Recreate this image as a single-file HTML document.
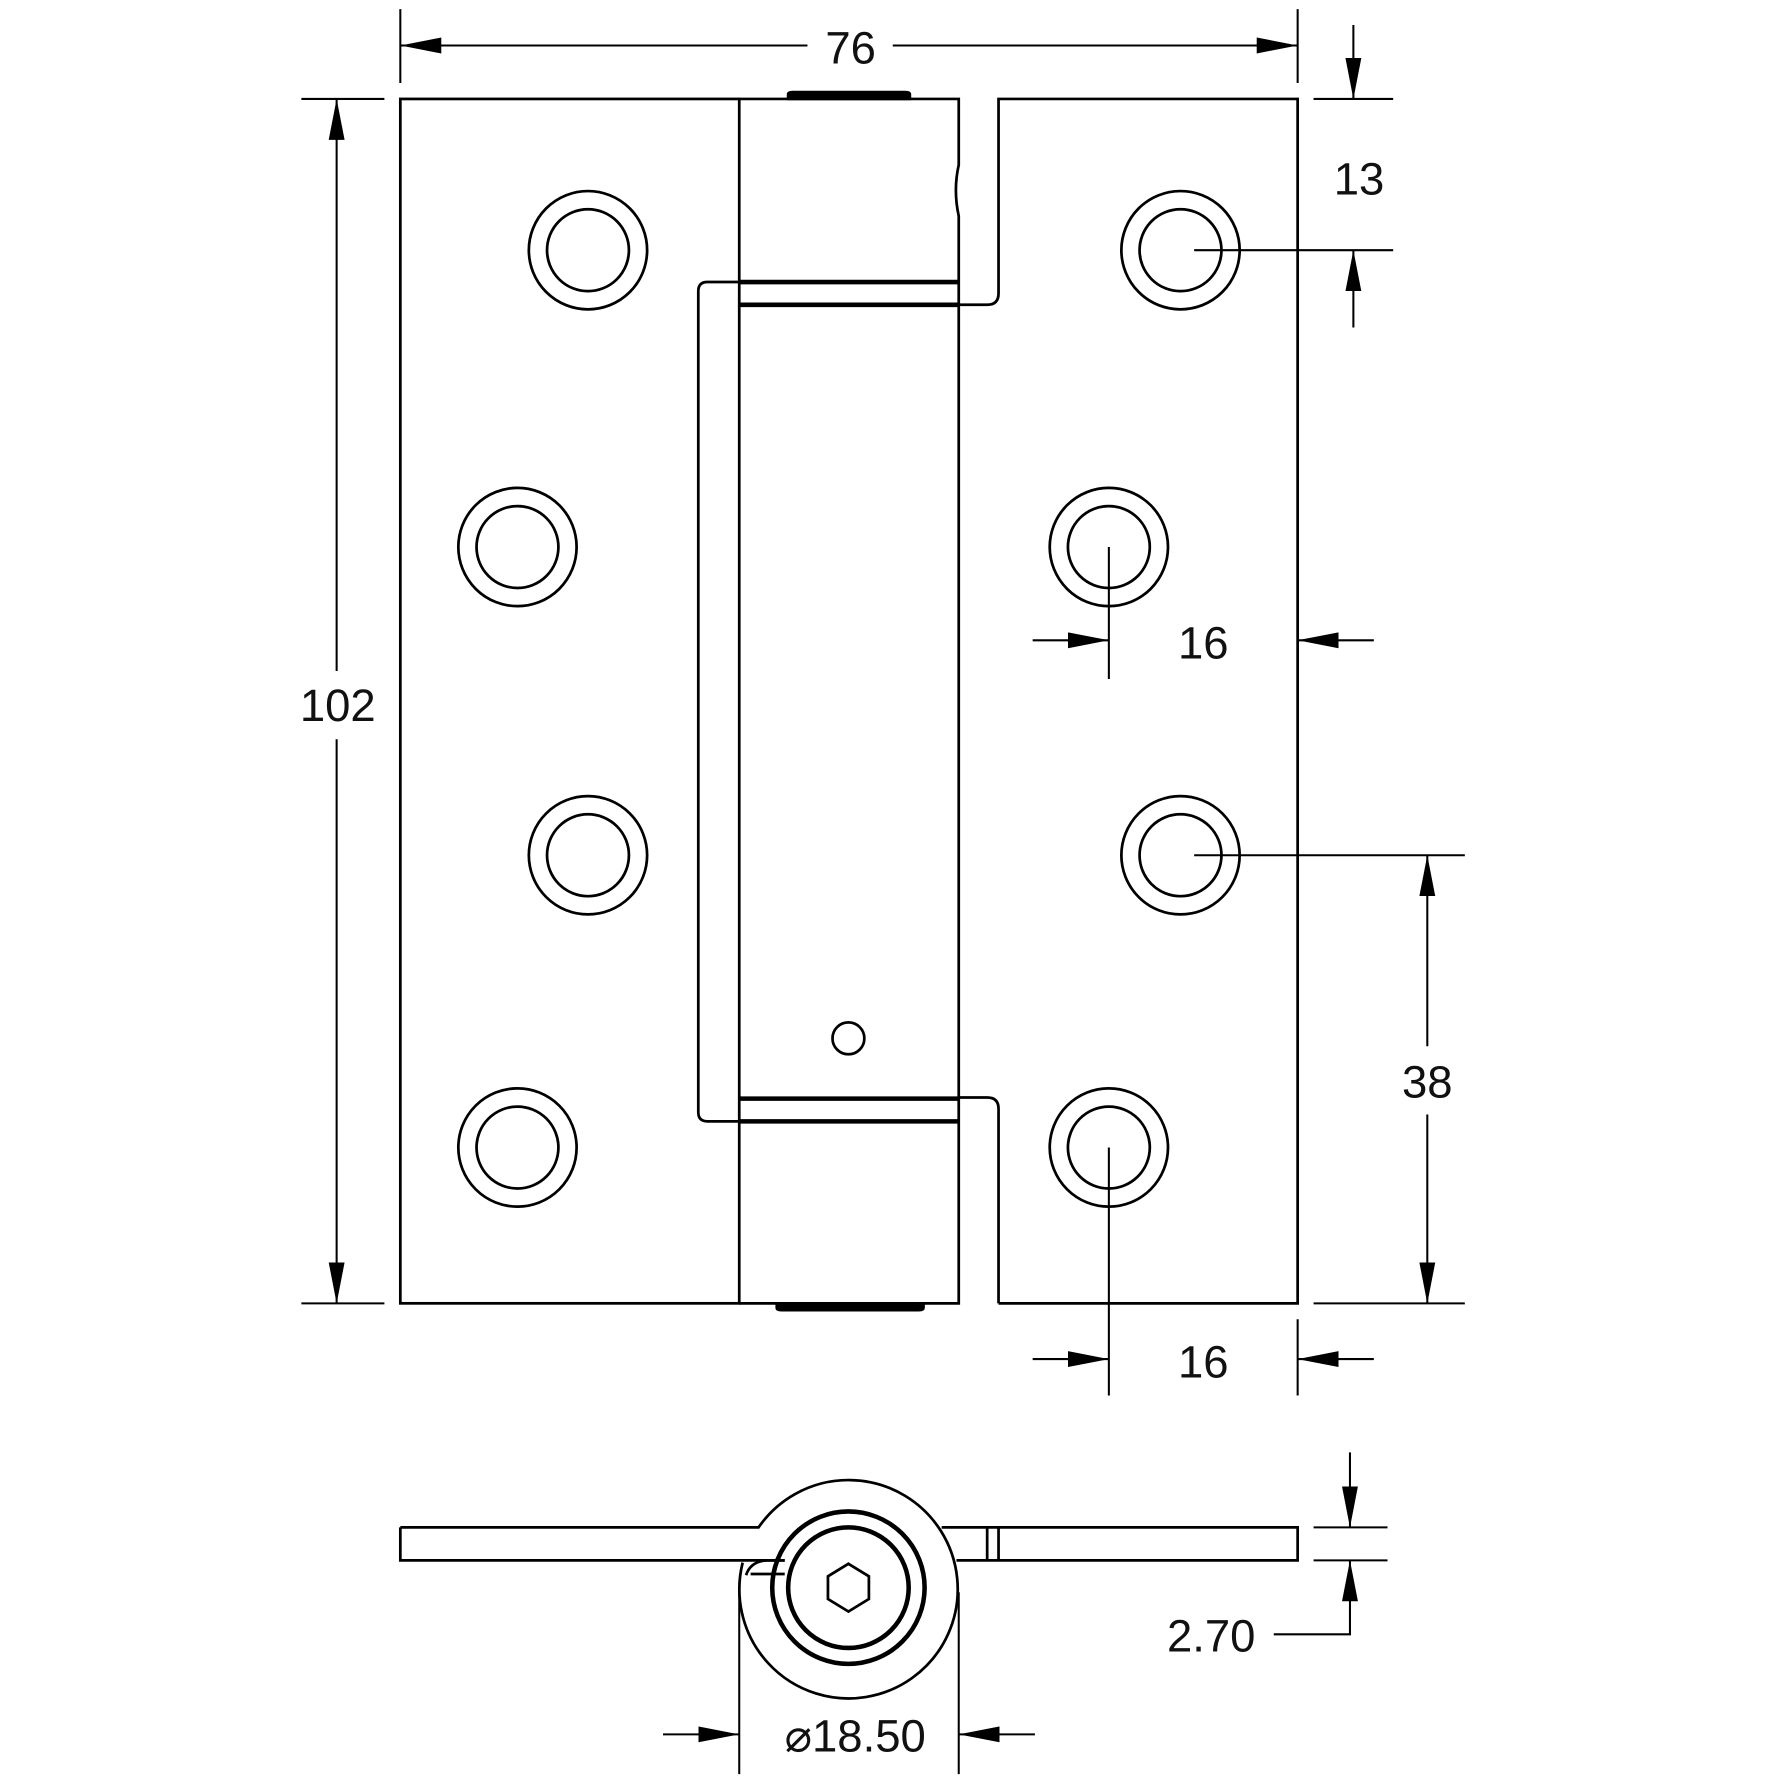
<!DOCTYPE html>
<html><head><meta charset="utf-8"><style>html,body{margin:0;padding:0;background:#fff}svg{display:block}</style></head>
<body>
<svg width="1781" height="1781" viewBox="0 0 1566 1566" xmlns="http://www.w3.org/2000/svg">
<defs>
<marker id="a" viewBox="0 0 36 14" refX="36" refY="7" markerWidth="36" markerHeight="14" markerUnits="userSpaceOnUse" orient="auto"><path d="M0,0 L36,7 L0,14 Z" fill="#000"/></marker>
</defs>
<g fill="none" stroke="#000" stroke-width="2.4">
<rect x="352" y="87" width="298" height="1059"/>
<path d="M650,87 H843 V145 Q838,167 843,190 V1146 H650"/>
<path d="M878,1146 V975 Q878,965 868,965 H843 M843,268 H868 Q878,268 878,258 V87 H1141 V1146 H878"/>
<path d="M650,248 H622 Q614,248 614,256 V978 Q614,986 622,986 H650"/>
<line x1="650" y1="248" x2="843" y2="248" stroke-width="4"/>
<line x1="650" y1="268" x2="843" y2="268" stroke-width="4"/>
<line x1="650" y1="966" x2="843" y2="966" stroke-width="4"/>
<line x1="650" y1="986" x2="843" y2="986" stroke-width="4"/>
<path d="M693,87 V83 Q693,81 697,81 H796 Q800,81 800,83 V87 Z" fill="#000"/>
<path d="M683,1146 V1150 Q683,1152 687,1152 H808 Q812,1152 812,1150 V1146 Z" fill="#000"/>
<circle cx="746" cy="913" r="14"/>
<g>
<circle cx="517" cy="220" r="52"/><circle cx="517" cy="220" r="36"/>
<circle cx="455" cy="481" r="52"/><circle cx="455" cy="481" r="36"/>
<circle cx="517" cy="752" r="52"/><circle cx="517" cy="752" r="36"/>
<circle cx="455" cy="1009" r="52"/><circle cx="455" cy="1009" r="36"/>
<circle cx="1038" cy="220" r="52"/><circle cx="1038" cy="220" r="36"/>
<circle cx="975" cy="481" r="52"/><circle cx="975" cy="481" r="36"/>
<circle cx="1038" cy="752" r="52"/><circle cx="1038" cy="752" r="36"/>
<circle cx="975" cy="1009" r="52"/><circle cx="975" cy="1009" r="36"/>
</g>
</g>
<g fill="none" stroke="#000" stroke-width="1.8">
<line x1="352" y1="8" x2="352" y2="73"/><line x1="1141" y1="8" x2="1141" y2="73"/>
<line x1="710" y1="40" x2="352" y2="40" marker-end="url(#a)"/>
<line x1="785" y1="40" x2="1141" y2="40" marker-end="url(#a)"/>
<line x1="265" y1="87" x2="338" y2="87"/><line x1="265" y1="1146" x2="338" y2="1146"/>
<line x1="296" y1="590" x2="296" y2="87" marker-end="url(#a)"/>
<line x1="296" y1="650" x2="296" y2="1146" marker-end="url(#a)"/>
<line x1="1155" y1="87" x2="1225" y2="87"/><line x1="1050" y1="220" x2="1225" y2="220"/>
<line x1="1190" y1="22" x2="1190" y2="87" marker-end="url(#a)"/>
<line x1="1190" y1="288" x2="1190" y2="220" marker-end="url(#a)"/>
<line x1="975" y1="481" x2="975" y2="597"/>
<line x1="908" y1="563" x2="975" y2="563" marker-end="url(#a)"/>
<line x1="1208" y1="563" x2="1141" y2="563" marker-end="url(#a)"/>
<line x1="1050" y1="752" x2="1288" y2="752"/><line x1="1155" y1="1146" x2="1288" y2="1146"/>
<line x1="1255" y1="920" x2="1255" y2="752" marker-end="url(#a)"/>
<line x1="1255" y1="980" x2="1255" y2="1146" marker-end="url(#a)"/>
<line x1="975" y1="1009" x2="975" y2="1227"/><line x1="1141" y1="1160" x2="1141" y2="1227"/>
<line x1="908" y1="1195" x2="975" y2="1195" marker-end="url(#a)"/>
<line x1="1208" y1="1195" x2="1141" y2="1195" marker-end="url(#a)"/>
<line x1="1155" y1="1343" x2="1220" y2="1343"/><line x1="1155" y1="1372" x2="1220" y2="1372"/>
<line x1="1187" y1="1277" x2="1187" y2="1343" marker-end="url(#a)"/>
<polyline points="1120,1437 1187,1437 1187,1372" marker-end="url(#a)"/>
<line x1="650" y1="1400" x2="650" y2="1560"/><line x1="843" y1="1400" x2="843" y2="1560"/>
<line x1="583" y1="1525" x2="650" y2="1525" marker-end="url(#a)"/>
<line x1="910" y1="1525" x2="843" y2="1525" marker-end="url(#a)"/>
</g>
<g fill="none" stroke="#000" stroke-width="2.4">
<path d="M352,1343 H667 A96,96 0 1 1 653,1374"/>
<path d="M828,1343 H1141 V1372 H841"/>
<path d="M352,1343 V1372 H690"/>
<path d="M656,1385 Q660,1373 674,1372 L690,1372 M660,1384 H690"/>
<line x1="868" y1="1343" x2="868" y2="1372"/><line x1="878" y1="1343" x2="878" y2="1372"/>
<circle cx="746" cy="1396" r="67" stroke-width="4"/>
<circle cx="746" cy="1396" r="53" stroke-width="4"/>
<polygon points="746,1375 764,1386 764,1406 746,1417 728,1406 728,1386"/>
</g>
<g font-family="'Liberation Sans',sans-serif" font-size="40" fill="#111" text-anchor="middle">
<text x="748" y="56">76</text>
<text x="297" y="634">102</text>
<text x="1195" y="171">13</text>
<text x="1058" y="579">16</text>
<text x="1255" y="965">38</text>
<text x="1058" y="1211">16</text>
<text x="1065" y="1452">2.70</text>
<text x="752" y="1540">⌀18.50</text>
</g>
</svg>
</body></html>
